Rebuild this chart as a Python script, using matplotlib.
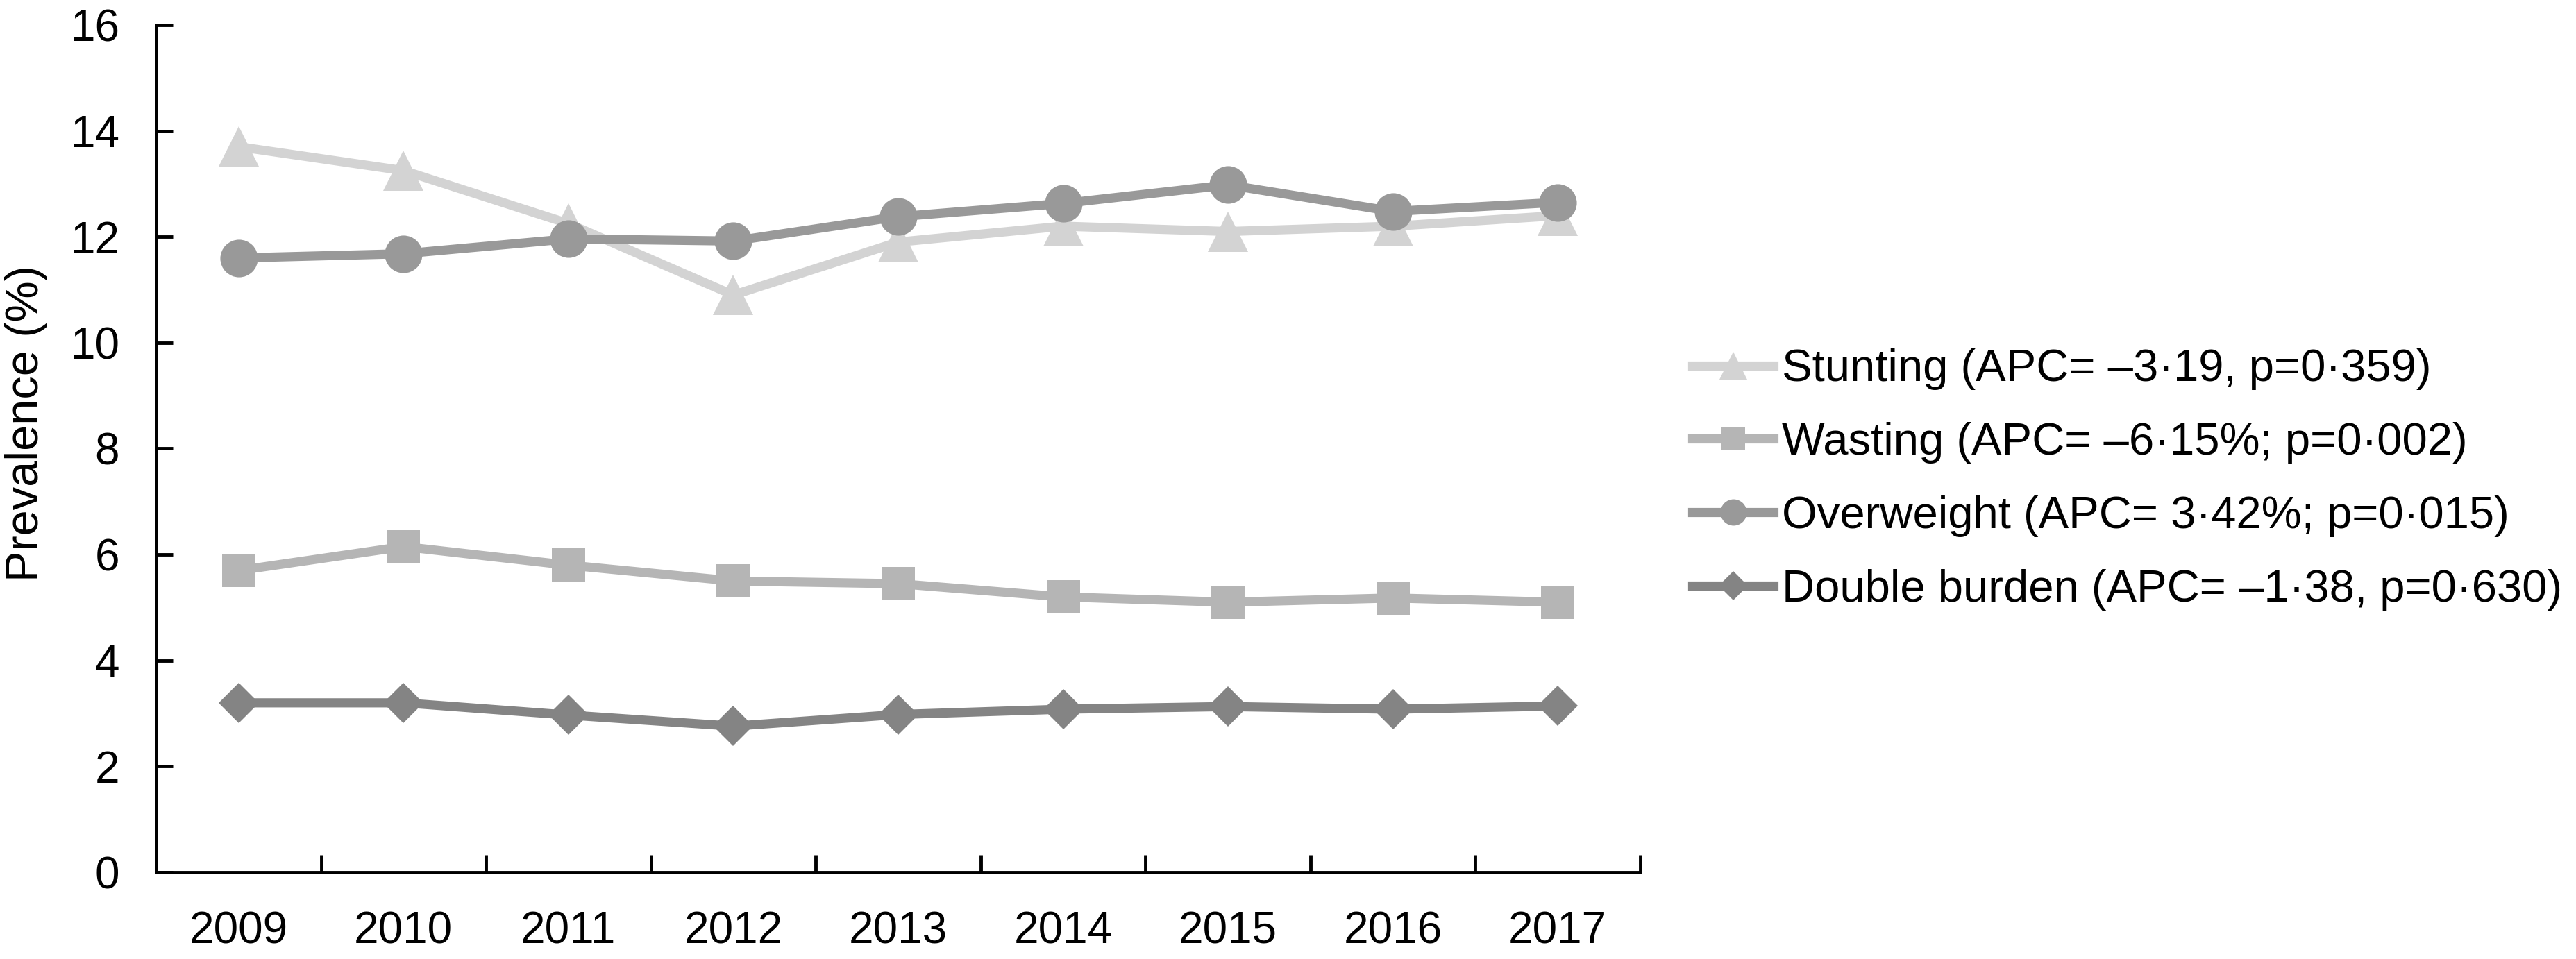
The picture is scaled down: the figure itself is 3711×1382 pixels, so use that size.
import matplotlib
matplotlib.use('Agg')
import matplotlib.pyplot as plt
import numpy as np

plt.rcParams['font.family'] = ['Liberation Sans', 'DejaVu Sans']

years = ['2009', '2010', '2011', '2012', '2013', '2014', '2015', '2016', '2017']
stunting = [13.7, 13.25, 12.25, 10.9, 11.9, 12.2, 12.1, 12.2, 12.4]
wasting = [5.7, 6.15, 5.8, 5.5, 5.45, 5.2, 5.1, 5.18, 5.1]
overweight = [11.6, 11.68, 11.96, 11.92, 12.38, 12.63, 12.98, 12.48, 12.65]
double_burden = [3.2, 3.2, 2.97, 2.76, 2.98, 3.08, 3.13, 3.08, 3.14]

labels = ['Stunting (APC= \u20133\u00b719, p=0\u00b7359)',
          'Wasting (APC= \u20136\u00b715%; p=0\u00b7002)',
          'Overweight (APC= 3\u00b742%; p=0\u00b7015)',
          'Double burden (APC= \u20131\u00b738, p=0\u00b7630)']
colors = ['#d3d3d3', '#b5b5b5', '#999999', '#848484']
markers = ['^', 's', 'o', 'D']
msizes = [42, 34, 39, 30]

fig = plt.figure(figsize=(37.12, 13.82), dpi=100)
ax = fig.add_axes([0.0606, 0.0904, 0.576, 0.8836])

x = np.arange(len(years))
series = [stunting, wasting, overweight, double_burden]
for ys, c, m, ms, lab in zip(series, colors, markers, msizes, labels):
    ax.plot(x, ys, color=c, marker=m, markersize=ms, linewidth=9.5,
            markeredgewidth=0, label=lab)

ax.set_xlim(-0.5, len(years) - 0.5)
ax.set_ylim(0, 16)
ax.set_yticks(np.arange(0, 17, 2))
# boundary ticks, labels sit between them
ax.set_xticks(np.arange(-0.5, len(years), 1.0))
ax.set_xticklabels([])
ax.set_xticks(x, minor=True)
ax.set_xticklabels(years, minor=True)
ax.tick_params(axis='x', which='major', direction='in', length=18, width=3.5)
ax.tick_params(axis='x', which='minor', length=0, pad=40, labelsize=46)
ax.tick_params(axis='y', direction='in', length=17, width=3.5, pad=38, labelsize=46)

for s in ['top', 'right']:
    ax.spines[s].set_visible(False)
for s in ['left', 'bottom']:
    ax.spines[s].set_linewidth(3.5)

ax.set_ylabel('Prevalence (%)', fontsize=48)
ax.yaxis.set_label_coords(-0.073, 0.53)

fig.legend(loc='center left', bbox_to_anchor=(2438 / 3712, 0.5), frameon=False,
           fontsize=47, handlelength=1.8, handletextpad=0.18, labelspacing=0.7,
           markerscale=0.7, borderpad=0, borderaxespad=0)

fig.savefig('out.png', dpi=100)
